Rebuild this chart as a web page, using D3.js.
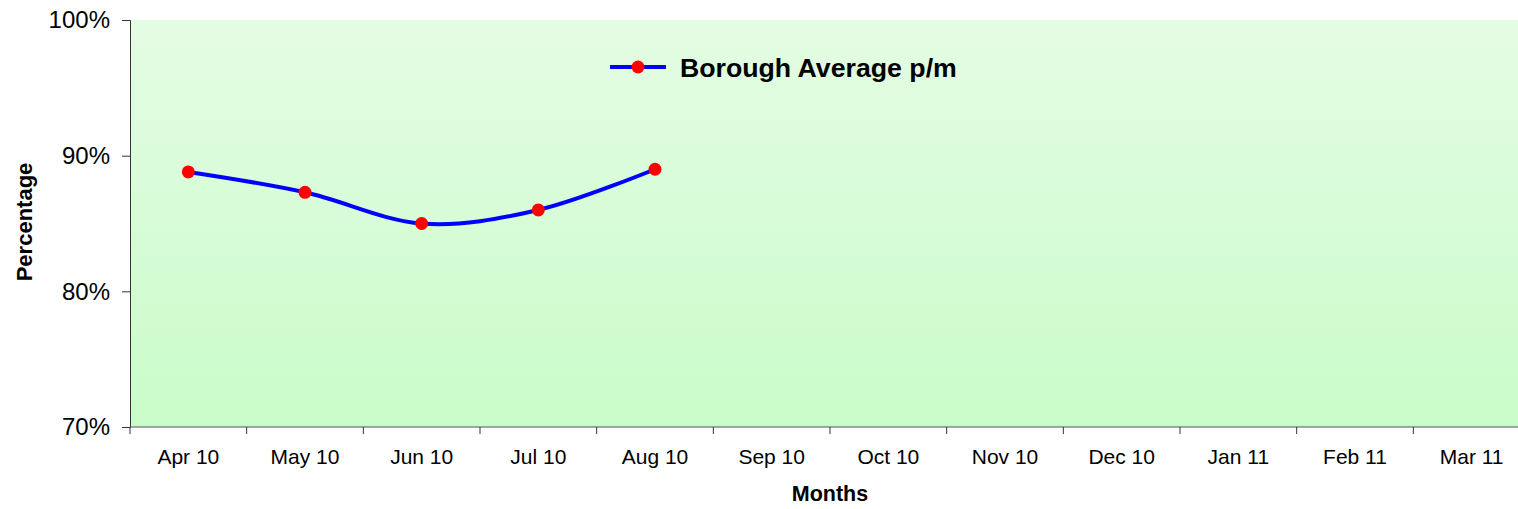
<!DOCTYPE html>
<html>
<head>
<meta charset="utf-8">
<script src="https://cdn.jsdelivr.net/npm/d3@7"></script>
<style>
  body { margin: 0; background: #fff; }
  svg { display: block; font-family: Arial, "Liberation Sans", sans-serif; }
</style>
</head>
<body>
<div id="chart"></div>
<script>
// data
const months = ["Apr 10", "May 10", "Jun 10", "Jul 10", "Aug 10", "Sep 10",
                "Oct 10", "Nov 10", "Dec 10", "Jan 11", "Feb 11", "Mar 11"];
const boroughAvg = [88.8, 87.3, 85.0, 86.0, 89.0];
const yTicks = [70, 80, 90, 100];
const seriesName = "Borough Average p/m";

const W = 1518, H = 509;
const margin = { top: 20, left: 130, bottom: 82 };
const plotRight = 1530; // plot area runs past the window edge

const svg = d3.select("#chart")
    .append("svg")
    .attr("width", W)
    .attr("height", H);

// background gradient
const grad = svg.append("defs").append("linearGradient")
    .attr("id", "bg").attr("x1", 0).attr("y1", 0).attr("x2", 0).attr("y2", 1);
grad.append("stop").attr("offset", "0%").attr("stop-color", "#e4fce4");
grad.append("stop").attr("offset", "100%").attr("stop-color", "#c9fcc9");

const x = d3.scaleBand()
    .domain(months)
    .range([margin.left, plotRight]);

const y = d3.scaleLinear()
    .domain([70, 100])
    .range([H - margin.bottom, margin.top]);

svg.append("rect")
    .attr("x", margin.left)
    .attr("y", margin.top)
    .attr("width", plotRight - margin.left)
    .attr("height", y(70) - y(100))
    .attr("fill", "url(#bg)");

// y axis
const yAxis = svg.append("g")
    .attr("transform", `translate(${margin.left},0)`)
    .call(d3.axisLeft(y).tickValues(yTicks).tickSize(8).tickPadding(12)
        .tickFormat(d => d + "%"));
yAxis.selectAll("text").style("font-size", "24px").style("fill", "#000");
yAxis.selectAll("line, path").attr("stroke", "#333");

// x axis (ticks on band edges)
const xAxisG = svg.append("g")
    .attr("transform", `translate(0,${y(70)})`);
xAxisG.append("line")
    .attr("x1", margin.left).attr("x2", plotRight)
    .attr("stroke", "#555");
xAxisG.selectAll(".tk")
    .data(months)
    .join("line")
    .attr("class", "tk")
    .attr("x1", d => x(d)).attr("x2", d => x(d))
    .attr("y1", 0).attr("y2", 7)
    .attr("stroke", "#333");
xAxisG.selectAll(".lbl")
    .data(months)
    .join("text")
    .attr("class", "lbl")
    .attr("x", d => x(d) + x.bandwidth() / 2)
    .attr("y", 37)
    .attr("text-anchor", "middle")
    .style("font-size", "21px")
    .text(d => d);

// axis titles
svg.append("text")
    .attr("x", 830).attr("y", 501)
    .attr("text-anchor", "middle")
    .style("font-size", "21.5px").style("font-weight", "bold")
    .text("Months");

svg.append("text")
    .attr("transform", `translate(32,222) rotate(-90)`)
    .attr("text-anchor", "middle")
    .style("font-size", "22px").style("font-weight", "bold")
    .text("Percentage");

// line
const pts = boroughAvg.map((v, i) => ({ m: months[i], v: v }));
const line = d3.line()
    .x(d => x(d.m) + x.bandwidth() / 2)
    .y(d => y(d.v))
    .curve(d3.curveCatmullRom.alpha(0));

svg.append("path")
    .datum(pts)
    .attr("d", line)
    .attr("fill", "none")
    .attr("stroke", "#0000ff")
    .attr("stroke-width", 4);

svg.selectAll(".dot")
    .data(pts)
    .join("circle")
    .attr("class", "dot")
    .attr("cx", d => x(d.m) + x.bandwidth() / 2)
    .attr("cy", d => y(d.v))
    .attr("r", 6.5)
    .attr("fill", "#ff0000");

// legend
const lg = svg.append("g").attr("transform", "translate(610,67)");
lg.append("line").attr("x1", 0).attr("x2", 56)
    .attr("stroke", "#0000ff").attr("stroke-width", 4);
lg.append("circle").attr("cx", 28).attr("r", 6.5).attr("fill", "#ff0000");
lg.append("text")
    .attr("x", 70).attr("y", 10)
    .style("font-size", "26.7px").style("font-weight", "bold")
    .text(seriesName);
</script>
</body>
</html>
